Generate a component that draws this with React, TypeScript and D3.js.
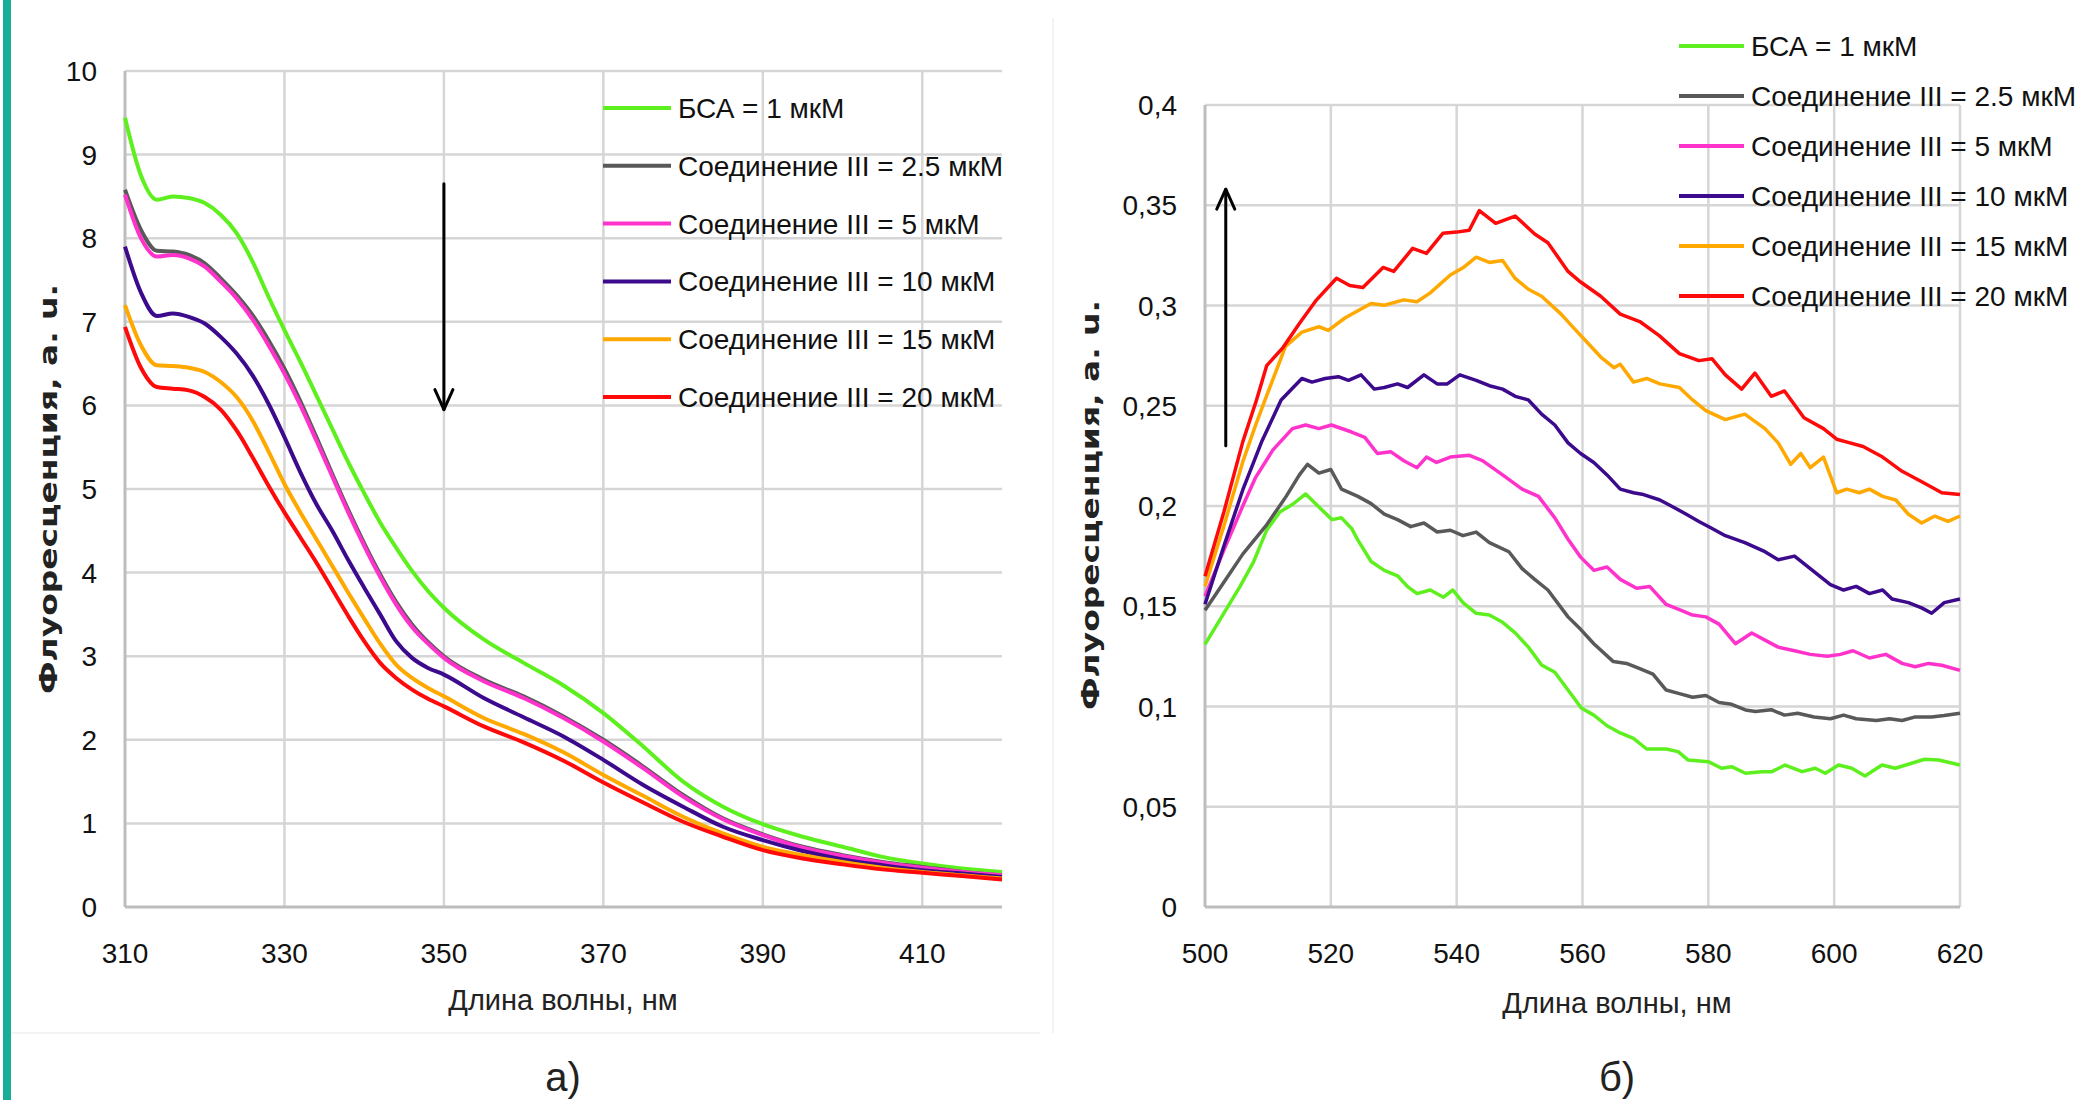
import React from "react";
import * as d3 from "d3";

// left panel (a): smooth spectra, common wavelength grid
const leftWavelengths = [
  310, 312, 314, 316, 318, 320, 322, 324, 326, 328, 330, 332, 334, 336, 338, 340,
  342, 344, 346, 348, 350, 355, 360, 365, 370, 375, 380, 385, 390, 395, 400, 405,
  410, 415, 420,
];
const leftBsa = [
  9.44, 8.75, 8.46, 8.5, 8.48, 8.42, 8.28, 8.06, 7.72, 7.3, 6.9, 6.52, 6.12, 5.72,
  5.32, 4.95, 4.6, 4.3, 4.02, 3.78, 3.58, 3.2, 2.92, 2.65, 2.32, 1.92, 1.5, 1.2,
  0.99, 0.84, 0.72, 0.6, 0.52, 0.46, 0.42,
];
const leftC25 = [
  8.58, 8.1, 7.85, 7.84, 7.8, 7.7, 7.52, 7.32, 7.08, 6.78, 6.44, 6.05, 5.62, 5.18,
  4.75, 4.35, 3.98, 3.65, 3.38, 3.17, 3.0, 2.72, 2.52, 2.28, 2.0, 1.68, 1.34, 1.06,
  0.87, 0.72, 0.62, 0.54, 0.48, 0.42, 0.38,
];
const leftC5 = [
  8.52, 8.0, 7.78, 7.8, 7.76, 7.66, 7.48, 7.28, 7.03, 6.72, 6.38, 6.0, 5.58, 5.15,
  4.72, 4.32, 3.95, 3.62, 3.35, 3.15, 2.98, 2.7, 2.5, 2.26, 1.98, 1.66, 1.32, 1.05,
  0.86, 0.71, 0.61, 0.53, 0.47, 0.42, 0.38,
];
const leftC10 = [
  7.9, 7.35, 7.07, 7.1, 7.06, 6.98, 6.82, 6.62, 6.36, 6.02, 5.62, 5.2, 4.82, 4.5,
  4.15, 3.82, 3.5, 3.18, 2.98, 2.86, 2.78, 2.5, 2.27, 2.04, 1.76, 1.46, 1.2, 0.96,
  0.8, 0.67, 0.57, 0.5, 0.44, 0.4, 0.36,
];
const leftC15 = [
  7.2, 6.72, 6.48, 6.47, 6.45, 6.4, 6.28, 6.1, 5.82, 5.45, 5.06, 4.72, 4.4, 4.08,
  3.76, 3.45, 3.15, 2.9, 2.74, 2.62, 2.52, 2.26, 2.07, 1.85, 1.58, 1.33, 1.08, 0.88,
  0.72, 0.62, 0.54, 0.47, 0.42, 0.38, 0.34,
];
const leftC20 = [
  6.94, 6.45, 6.22, 6.2, 6.18, 6.1, 5.95, 5.7, 5.38, 5.04, 4.72, 4.42, 4.12, 3.8,
  3.48, 3.18, 2.92, 2.74, 2.6, 2.49, 2.4, 2.16, 1.97, 1.75, 1.49, 1.25, 1.02, 0.84,
  0.68, 0.58, 0.51, 0.45, 0.41, 0.37, 0.33,
];

// right panel (б): noisy spectra, [wavelength, value] pairs
const rightBsa = [
  [500, 0.131], [502.5, 0.144], [505.6, 0.16], [507.7, 0.172], [509.8, 0.188], [511.9, 0.197],
  [514, 0.201], [516, 0.206], [518.1, 0.1995], [520.2, 0.1932], [521.7, 0.1941], [523.3, 0.1888],
  [524.3, 0.183], [526.4, 0.1723], [528.5, 0.1679], [530.6, 0.1652], [532.2, 0.1598], [533.7, 0.1563],
  [535.8, 0.1581], [537.9, 0.1545], [539.4, 0.1581], [541, 0.1518], [543.1, 0.1465], [545.2, 0.1456],
  [547.3, 0.142], [549.3, 0.1367], [551.4, 0.1296], [553.5, 0.1207], [555.6, 0.1171], [557.7, 0.1082],
  [559.8, 0.0993], [561.8, 0.0957], [563.9, 0.0904], [566, 0.0868], [568.1, 0.0841], [570.2, 0.0788],
  [573.3, 0.0788], [575.2, 0.0775], [576.8, 0.0733], [580, 0.0725], [582.1, 0.0692], [583.7, 0.07],
  [585.9, 0.0667], [588.5, 0.0675], [590.1, 0.0675], [592.2, 0.0708], [594.9, 0.0675], [597, 0.0692],
  [598.6, 0.0667], [600.7, 0.0708], [602.8, 0.0692], [604.9, 0.0653], [607.6, 0.0708], [609.7, 0.0692],
  [612.3, 0.0717], [614.4, 0.0737], [616.6, 0.0733], [620, 0.0708],
];
const rightC25 = [
  [500, 0.148], [503, 0.162], [506, 0.176], [509.8, 0.1906], [512.9, 0.2048], [515, 0.2155],
  [516.3, 0.2208], [518.1, 0.2164], [520, 0.2182], [521.7, 0.2084], [524.3, 0.2048], [526.4, 0.2012],
  [528.5, 0.1959], [530.6, 0.1932], [532.7, 0.1897], [534.8, 0.1915], [536.9, 0.187], [539, 0.1879],
  [541, 0.1852], [543.1, 0.187], [545.2, 0.1817], [548.3, 0.1772], [550.4, 0.1688], [552.4, 0.1634],
  [554.5, 0.1581], [557.7, 0.1447], [559.7, 0.1385], [561.8, 0.1313], [564.9, 0.1224], [567, 0.1215],
  [569.1, 0.1189], [571.2, 0.1162], [573.3, 0.1082], [575.4, 0.1064], [577.5, 0.1046], [579.6, 0.1055],
  [581.7, 0.102], [583.7, 0.1011], [585.9, 0.0983], [587.5, 0.0975], [590, 0.0984], [592.1, 0.0957],
  [594.2, 0.0966], [596.8, 0.0948], [599.4, 0.0939], [601.5, 0.0957], [603.5, 0.0939], [606.7, 0.093],
  [608.8, 0.0939], [610.8, 0.093], [612.9, 0.0948], [615.5, 0.0948], [617.5, 0.0955], [620, 0.0966],
];
const rightC5 = [
  [500, 0.155], [503, 0.178], [506, 0.2], [508, 0.214], [510.8, 0.228], [513.9, 0.2386],
  [516, 0.2404], [518.1, 0.2386], [520.1, 0.2404], [523.3, 0.2369], [525.4, 0.2342], [527.4, 0.2262],
  [529.5, 0.2271], [531.6, 0.2226], [533.7, 0.2191], [535.2, 0.2244], [536.8, 0.2217], [539, 0.2244],
  [542, 0.2253], [544.1, 0.2226], [547.3, 0.2155], [550.4, 0.2084], [553, 0.2048], [555.6, 0.1941],
  [557.7, 0.1834], [559.7, 0.1745], [561.8, 0.1679], [563.9, 0.1696], [566, 0.1634], [568.6, 0.159],
  [570.7, 0.1598], [573.3, 0.1509], [575.4, 0.1483], [577.5, 0.1456], [579.6, 0.1447], [581.7, 0.1411],
  [584.3, 0.1313], [586.9, 0.1367], [589, 0.1331], [591.1, 0.1296], [593.7, 0.1278], [596.2, 0.126],
  [598.9, 0.1251], [601, 0.126], [603, 0.1278], [605.6, 0.1242], [608.2, 0.126], [610.8, 0.1215],
  [612.9, 0.1198], [615, 0.1215], [617.1, 0.1206], [620, 0.118],
];
const rightC10 = [
  [500, 0.151], [503, 0.18], [506, 0.208], [509, 0.232], [512.1, 0.2529], [515.4, 0.2636],
  [517, 0.2618], [519.1, 0.2636], [521.2, 0.2645], [522.8, 0.2627], [524.8, 0.2654], [526.9, 0.2583],
  [528.5, 0.2591], [530.6, 0.2609], [532.2, 0.2591], [534.8, 0.2654], [536.9, 0.2609], [538.5, 0.2609],
  [540.5, 0.2654], [543.1, 0.2627], [545.2, 0.26], [547.3, 0.2583], [549.3, 0.2547], [551.4, 0.2529],
  [553.5, 0.2458], [555.6, 0.2404], [557.7, 0.2315], [559.7, 0.2262], [561.8, 0.2217], [563.9, 0.2155],
  [566, 0.2084], [568.1, 0.2066], [569.7, 0.2057], [572.3, 0.203], [574.4, 0.1995], [576.5, 0.1959],
  [578.5, 0.1923], [580.6, 0.1888], [582.7, 0.1852], [585.8, 0.1817], [589, 0.1772], [591.1, 0.1732],
  [593.7, 0.175], [596.2, 0.1688], [599.4, 0.1608], [601.5, 0.1581], [603.5, 0.1599], [605.6, 0.1563],
  [607.7, 0.1581], [609.2, 0.1536], [611.8, 0.1518], [613.9, 0.1492], [615.5, 0.1465], [617.5, 0.1518],
  [620, 0.1536],
];
const rightC15 = [
  [500, 0.16], [503, 0.19], [506, 0.222], [508, 0.24], [509.8, 0.255], [512.8, 0.2796],
  [515.4, 0.2867], [518.1, 0.2894], [519.6, 0.2876], [522.3, 0.2939], [524.3, 0.2974], [526.4, 0.301],
  [528.5, 0.3001], [531.6, 0.3028], [533.7, 0.3019], [535.8, 0.3063], [539, 0.3152], [541, 0.3188],
  [543.1, 0.3241], [545.2, 0.3215], [547.3, 0.3224], [549.3, 0.3135], [551.4, 0.3081], [553.5, 0.3046],
  [556.6, 0.2957], [558.7, 0.2885], [560.8, 0.2814], [562.9, 0.2743], [565, 0.269], [566, 0.2707],
  [568.1, 0.2618], [570.2, 0.2636], [572.3, 0.2609], [575.4, 0.2591], [577.5, 0.2529], [579.6, 0.2476],
  [582.7, 0.2431], [585.8, 0.2458], [589, 0.2386], [591.1, 0.2315], [593.1, 0.2208], [594.7, 0.2262],
  [596.2, 0.2191], [598.3, 0.2244], [600.4, 0.2066], [602, 0.2084], [604, 0.2066], [605.6, 0.2084],
  [607.7, 0.2048], [609.8, 0.203], [611.8, 0.1959], [613.9, 0.1915], [616, 0.195], [618.1, 0.1923],
  [620, 0.195],
];
const rightC20 = [
  [500, 0.165], [503, 0.197], [506, 0.232], [508.2, 0.253], [509.8, 0.27], [512.4, 0.279],
  [515, 0.291], [517.7, 0.3027], [520.9, 0.3136], [523, 0.31], [525.1, 0.309], [528.3, 0.319],
  [530, 0.317], [533, 0.3285], [535.2, 0.326], [537.8, 0.336], [540, 0.3366], [542, 0.3375],
  [543.6, 0.3473], [546.2, 0.341], [549.3, 0.3446], [552.4, 0.3357], [554.5, 0.3313], [557.7, 0.317],
  [559.7, 0.3117], [562.9, 0.3046], [566, 0.2957], [569.1, 0.292], [572.2, 0.285], [575.4, 0.276],
  [578.5, 0.2725], [580.6, 0.2734], [582.7, 0.2654], [585.3, 0.2583], [587.4, 0.2663], [590, 0.2547],
  [592.1, 0.2574], [595.2, 0.244], [598.3, 0.2386], [600.4, 0.2333], [602.5, 0.2315], [604.6, 0.2297],
  [607.7, 0.2244], [610.8, 0.2173], [614, 0.212], [617.1, 0.2066], [620, 0.2057],
];

const seriesNames = [
  "БСА = 1 мкМ",
  "Соединение III = 2.5 мкМ",
  "Соединение III = 5 мкМ",
  "Соединение III = 10 мкМ",
  "Соединение III = 15 мкМ",
  "Соединение III = 20 мкМ",
];
const seriesColors = ["#5ef01e", "#595959", "#ff33cc", "#3c0a8c", "#ffa800", "#ff0a0a"];

const leftXTicks = [310, 330, 350, 370, 390, 410];
const leftYTicks = [0, 1, 2, 3, 4, 5, 6, 7, 8, 9, 10];
const rightXTicks = [500, 520, 540, 560, 580, 600, 620];
const rightYTicks = [0, 0.05, 0.1, 0.15, 0.2, 0.25, 0.3, 0.35, 0.4];

// arrows: [wavelength, from, to]
const leftArrow = [350, 8.65, 5.95];
const rightArrow = [503.3, 0.23, 0.358];

const tickFont = "'Liberation Sans Narrow', 'Arial Narrow', 'Liberation Sans', sans-serif";
const titleFont = "'DejaVu Sans', Verdana, sans-serif";
const gridColor = "#d6d6d6";
const axisColor = "#bdbdbd";

function Arrow({ x, y1, y2 }) {
  const dir = y2 > y1 ? 1 : -1;
  return (
    <g stroke="#000" strokeWidth={3} fill="none" strokeLinecap="round">
      <line x1={x} y1={y1} x2={x} y2={y2} />
      <polyline points={`${x - 9},${y2 - dir * 20} ${x},${y2} ${x + 9},${y2 - dir * 20}`} strokeLinejoin="round" />
    </g>
  );
}

function Legend({ x0, y0, step, lineLen }) {
  return (
    <g>
      {seriesNames.map((name, i) => (
        <g key={name} transform={`translate(${x0},${y0 + i * step})`}>
          <line x1={0} x2={lineLen} y1={0} y2={0} stroke={seriesColors[i]} strokeWidth={4} />
          <text x={lineLen + 7} y={0} dy="0.36em" fontFamily={tickFont} fontSize={28} fill="#111">
            {name}
          </text>
        </g>
      ))}
    </g>
  );
}

function Panel({ x, y, xTicks, yTicks, yFormat, curve, series, strokeW, arrow }) {
  const [x0, x1] = x.range();
  const [y0, y1] = y.range();
  const line = d3
    .line()
    .x((d) => x(d[0]))
    .y((d) => y(d[1]))
    .curve(curve);
  return (
    <g>
      {yTicks.map((t) => (
        <g key={"y" + t}>
          {t !== 0 && <line x1={x0} x2={x1} y1={y(t)} y2={y(t)} stroke={gridColor} strokeWidth={2.5} />}
          <text x={x0 - 28} y={y(t)} dy="0.36em" textAnchor="end" fontFamily={tickFont} fontSize={28} fill="#111">
            {yFormat(t)}
          </text>
        </g>
      ))}
      {xTicks.map((t) => (
        <g key={"x" + t}>
          {t !== xTicks[0] && <line x1={x(t)} x2={x(t)} y1={y0} y2={y1} stroke={gridColor} strokeWidth={2.5} />}
          <text x={x(t)} y={y0 + 46} dy="0.36em" textAnchor="middle" fontFamily={tickFont} fontSize={28} fill="#111">
            {t}
          </text>
        </g>
      ))}
      <line x1={x0} x2={x0} y1={y0} y2={y1} stroke={axisColor} strokeWidth={3} />
      <line x1={x0} x2={x1} y1={y0} y2={y0} stroke={axisColor} strokeWidth={3} />
      {series.map((s, i) => (
        <path key={i} d={line(s)} fill="none" stroke={seriesColors[i]} strokeWidth={strokeW} strokeLinejoin="round" />
      ))}
      <Arrow x={x(arrow[0])} y1={y(arrow[1])} y2={y(arrow[2])} />
    </g>
  );
}

export default function App() {
  const xl = d3.scaleLinear().domain([310, 420]).range([125, 1002]);
  const yl = d3.scaleLinear().domain([0, 10]).range([907, 71]);
  const xr = d3.scaleLinear().domain([500, 620]).range([1205, 1960]);
  const yr = d3.scaleLinear().domain([0, 0.4]).range([907, 105]);

  const leftSeries = [leftBsa, leftC25, leftC5, leftC10, leftC15, leftC20].map((vals) =>
    leftWavelengths.map((w, i) => [w, vals[i]])
  );
  const rightSeries = [rightBsa, rightC25, rightC5, rightC10, rightC15, rightC20];

  return (
    <svg
      width={2079}
      height={1100}
      style={{ position: "absolute", left: 0, top: 0, background: "#fff" }}
    >
      <rect x={0} y={0} width={2079} height={1100} fill="#fff" />
      <rect x={3} y={0} width={8} height={1100} fill="#17ad97" />
      <line x1={11} x2={1040} y1={1033} y2={1033} stroke="#f3f3f3" strokeWidth={2} />
      <line x1={1053} x2={1053} y1={18} y2={1033} stroke="#f3f3f3" strokeWidth={2} />

      <Panel
        x={xl}
        y={yl}
        xTicks={leftXTicks}
        yTicks={leftYTicks}
        yFormat={(t) => String(t)}
        curve={d3.curveMonotoneX}
        series={leftSeries}
        strokeW={4}
        arrow={leftArrow}
      />
      <Legend x0={603} y0={108} step={57.8} lineLen={68} />
      <text
        transform="translate(48,489) rotate(-90)"
        textAnchor="middle"
        dy="0.36em"
        fontFamily={titleFont}
        fontWeight="bold"
        fontSize={25}
        fill="#222"
        textLength={410}
        lengthAdjust="spacingAndGlyphs"
      >
        Флуоресценция, а. u.
      </text>
      <text x={563} y={1000} dy="0.36em" textAnchor="middle" fontFamily={tickFont} fontSize={29} fill="#222">
        Длина волны, нм
      </text>
      <text x={563} y={1077} dy="0.36em" textAnchor="middle" fontFamily={tickFont} fontSize={40} fill="#222">
        а)
      </text>

      <Panel
        x={xr}
        y={yr}
        xTicks={rightXTicks}
        yTicks={rightYTicks}
        yFormat={(t) => String(+t.toFixed(2)).replace(".", ",")}
        curve={d3.curveLinear}
        series={rightSeries}
        strokeW={3.5}
        arrow={rightArrow}
      />
      <Legend x0={1679} y0={46} step={50} lineLen={65} />
      <text
        transform="translate(1090,505) rotate(-90)"
        textAnchor="middle"
        dy="0.36em"
        fontFamily={titleFont}
        fontWeight="bold"
        fontSize={25}
        fill="#222"
        textLength={410}
        lengthAdjust="spacingAndGlyphs"
      >
        Флуоресценция, а. u.
      </text>
      <text x={1617} y={1003} dy="0.36em" textAnchor="middle" fontFamily={tickFont} fontSize={29} fill="#222">
        Длина волны, нм
      </text>
      <text x={1617} y={1077} dy="0.36em" textAnchor="middle" fontFamily={tickFont} fontSize={40} fill="#222">
        б)
      </text>
    </svg>
  );
}
